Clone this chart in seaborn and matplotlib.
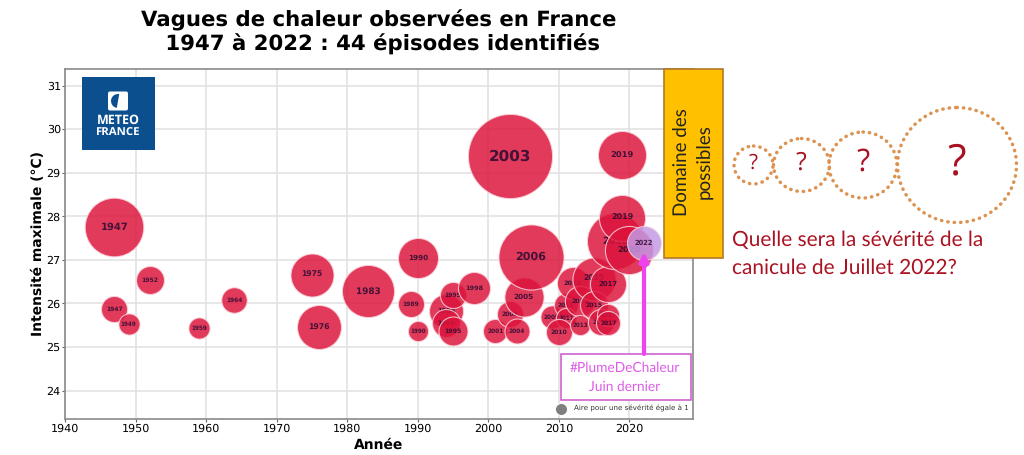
import seaborn as sns
import matplotlib
matplotlib.use("Agg")
import matplotlib.pyplot as plt
from matplotlib.patches import Rectangle, Ellipse, FancyBboxPatch, Wedge
import pandas as pd

sns.set_style("whitegrid")
plt.rcParams["text.hinting"] = "no_hinting"

years = [1947, 1947, 1949, 1952, 1959, 1964, 1975, 1976, 1983, 1989, 1990, 1990,
         1994, 1994, 1995, 1995, 1998, 2001, 2003, 2003, 2004, 2005, 2006, 2009,
         2011, 2011, 2010, 2012, 2013, 2013, 2015, 2015, 2016, 2017, 2017, 2017,
         2018, 2019, 2019, 2020, 2022]
temps = [27.75, 25.87, 25.53, 26.53, 25.43, 26.08, 26.66, 25.45, 26.28, 25.98, 27.04, 25.37,
         25.82, 25.55, 26.2, 25.37, 26.35, 25.37, 25.76, 29.38, 25.37, 26.15, 27.06, 25.69,
         25.96, 25.66, 25.35, 26.47, 26.05, 25.5, 26.56, 25.96, 25.57, 26.44, 25.73, 25.55,
         27.43, 29.4, 27.96, 27.22, 27.38]
severity = [23.8, 4.7, 3.1, 5.4, 3.1, 4.5, 12.8, 13.4, 18.8, 4.7, 11.1, 2.8,
            8.0, 5.4, 4.7, 5.8, 7.1, 4.0, 4.7, 49.0, 4.3, 10.6, 29.3, 3.7,
            4.0, 2.8, 4.7, 7.1, 6.3, 2.8, 12.8, 5.4, 4.7, 9.0, 3.4, 4.0,
            21.8, 16.0, 14.7, 16.0, 8.0]

xticks = list(range(1940, 2030, 10))
yticks = list(range(24, 32))
title = "Vagues de chaleur observées en France\n 1947 à 2022 : 44 épisodes identifiés"
question_sizes = [15, 18, 22, 31]

df = pd.DataFrame({"annee": years, "temp": temps, "sev": severity})

fig = plt.figure(figsize=(10.24, 4.55), dpi=100)
ax = fig.add_axes([65 / 1024, 1 - 419 / 455, 628 / 1024, 350 / 455])

# une bulle par episode, dans l'ordre chronologique : les suivantes cachent les etiquettes
for i, row in df.iterrows():
    last = i == len(df) - 1
    sns.scatterplot(x=[row["annee"]], y=[row["temp"]], s=75 * row["sev"], ax=ax,
                    color="#c39ae6" if last else "#dc143c", alpha=0.84,
                    edgecolor="#fbd5dd", linewidth=0.8, legend=False, zorder=3 + i)
    ax.text(row["annee"], row["temp"], str(int(row["annee"])), ha="center", va="center",
            fontsize=3.6 + 0.15 * row["sev"], fontweight="bold", color="#2a0a30",
            alpha=0.85, zorder=3.5 + i)

# echelle des aires
sns.scatterplot(x=[2010.3], y=[23.58], s=75, color="#808080", ax=ax, legend=False, zorder=3)
ax.text(2012.1, 23.58, "Aire pour une sévérité égale à 1", fontsize=5.1, va="center", color="#333333")

ax.set_xlim(1940, 2029)
ax.set_ylim(23.35, 31.38)
ax.set_xticks(xticks)
ax.set_yticks(yticks)
ax.tick_params(labelsize=8, length=2, width=0.8, color="#666666", labelcolor="black",
               bottom=True, left=True, pad=1)
ax.grid(color="#e0e0e0", linewidth=1.1)
for name, spine in ax.spines.items():
    spine.set_color("#8a8a8a")
    spine.set_linewidth(1.2)
ax.set_xlabel("Année", fontsize=10, fontweight="bold", labelpad=3, color="black")
ax.set_ylabel("Intensité maximale (°C)", fontsize=10, fontweight="bold", labelpad=1.5, color="black")
ax.set_title(title, fontsize=15.3, fontweight="bold", pad=13, linespacing=1.2, color="black")

# habillage de la diapo, en pixels de l'image
over = fig.add_axes([0, 0, 1, 1])
over.set_xlim(0, 1024)
over.set_ylim(455, 0)
over.axis("off")
over.patch.set_alpha(0)

over.add_patch(Rectangle((664, 69), 59, 189, facecolor="#ffc000", edgecolor="#b5762a", linewidth=1.2))
over.text(692.5, 162, "Domaine des\npossibles", rotation=90, ha="center", va="center",
          fontsize=13.5, family="Lato", color="#222222", linespacing=1.35)

# logo
blue = "#0b4f8e"
over.add_patch(Rectangle((81.5, 77), 73, 73, facecolor=blue, edgecolor="none"))
over.add_patch(FancyBboxPatch((110, 93.5), 16, 15, boxstyle="round,pad=2", facecolor="white", edgecolor="none"))
over.add_patch(Wedge((118, 101), 7, 100, 280, facecolor=blue, edgecolor="none"))
over.text(118, 121, "METEO", color="white", fontsize=9, fontweight="bold", family="Open Sans", ha="center", va="center")
over.text(118, 133, "FRANCE", color="white", fontsize=8.2, fontweight="bold", family="Open Sans", ha="center", va="center")

# fleche et encadre #PlumeDeChaleur
over.annotate("", xy=(644, 252), xytext=(644, 354),
              arrowprops=dict(arrowstyle="-|>", color="#ee44f0", lw=3, mutation_scale=13, shrinkA=0, shrinkB=0))
over.add_patch(Rectangle((560.5, 354), 130, 46, facecolor="white", edgecolor="#cc55cc", linewidth=1.1))
over.text(625, 368, "#PlumeDeChaleur", color="#dd5ce8", fontsize=9.9, family="Lato", ha="center", va="center")
over.text(625, 387, "Juin dernier", color="#dd5ce8", fontsize=9.9, family="Lato", ha="center", va="center")

# bulles a venir
for cx, w, h, size in zip([753.5, 801.5, 863, 957], [39, 56, 68, 119], [38, 53, 66, 115], question_sizes):
    over.add_patch(Ellipse((cx, 165), w, h, fill=False, edgecolor="#dc9352", linewidth=2.5,
                           linestyle=(0, (0.1, 1.75)), capstyle="round"))
    over.text(cx, 163, "?", color="#a81222", fontsize=size, family="Open Sans", ha="center", va="center")
over.text(732, 240, "Quelle sera la sévérité de la", color="#aa1222", fontsize=15, family="Lato", va="center")
over.text(732, 268, "canicule de Juillet 2022?", color="#aa1222", fontsize=15, family="Lato", va="center")

fig.savefig("out.png", dpi=100)
